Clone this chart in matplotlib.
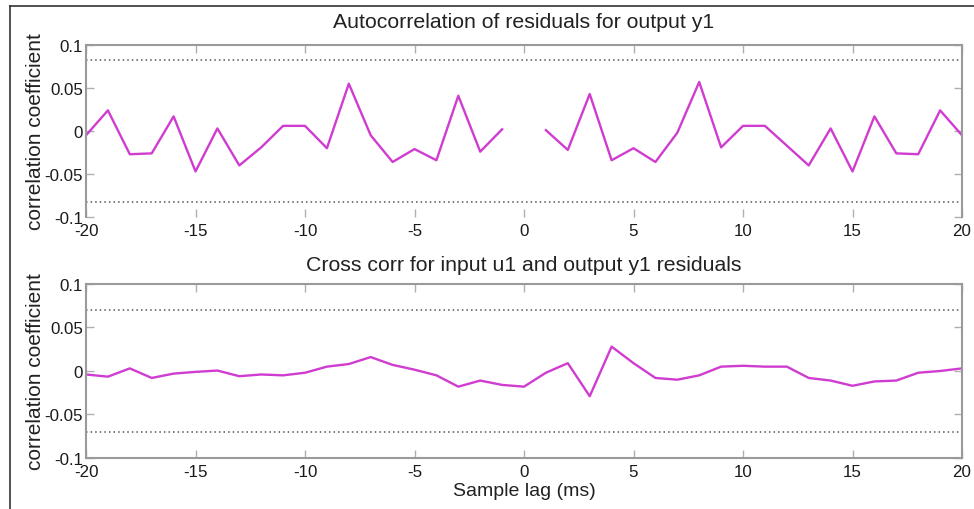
import matplotlib.pyplot as plt
import numpy as np
from matplotlib.lines import Line2D

plt.rcParams['font.family'] = ['Liberation Sans', 'DejaVu Sans']

# lags and correlation values
lags = np.arange(-20, 21)

# autocorrelation of residuals (lag 0 left out, as in the original)
auto_corr = [-0.005, 0.024, -0.027, -0.026, 0.017, -0.047, 0.003, -0.040,
             -0.019, 0.006, 0.006, -0.020, 0.055, -0.005, -0.036, -0.021,
             -0.034, 0.041, -0.024, 0.002, np.nan, 0.001, -0.022, 0.043,
             -0.034, -0.020, -0.036, -0.002, 0.057, -0.019, 0.006, 0.006,
             -0.017, -0.040, 0.003, -0.047, 0.017, -0.026, -0.027, 0.024,
             -0.005]
auto_conf = 0.082

# cross correlation input u1 / output y1 residuals
cross_corr = [-0.004, -0.0065, 0.003, -0.008, -0.003, -0.001, 0.0005, -0.006,
              -0.004, -0.005, -0.002, 0.005, 0.008, 0.016, 0.007, 0.0015,
              -0.005, -0.018, -0.011, -0.016, -0.018, -0.002, 0.009, -0.029,
              0.028, 0.009, -0.008, -0.010, -0.005, 0.005, 0.006, 0.005,
              0.005, -0.008, -0.011, -0.017, -0.012, -0.011, -0.002, 0.0,
              0.003]
cross_conf = 0.070

titles = ['Autocorrelation of residuals for output y1',
          'Cross corr for input u1 and output y1 residuals']
ylabel = 'correlation coefficient'
xlabel = 'Sample lag (ms)'
xticks = [-20, -15, -10, -5, 0, 5, 10, 15, 20]
yticks = [-0.1, -0.05, 0, 0.05, 0.1]
yticklabels = ['-0.1', '-0.05', '0', '0.05', '0.1']

line_color = '#d03cd0'
spine_color = '#9a9a9a'

fig = plt.figure(figsize=(9.74, 5.10), dpi=100)
ax1 = fig.add_axes([0.0883, 0.5725, 0.8994, 0.3373])
ax2 = fig.add_axes([0.0883, 0.1000, 0.8994, 0.3412])

panels = [(ax1, auto_corr, auto_conf, titles[0], 13),
          (ax2, cross_corr, cross_conf, titles[1], 10)]

for ax, vals, conf, title, pad in panels:
    ax.plot(lags, vals, color=line_color, linewidth=1.7)
    ax.axhline(conf, color='#555555', linestyle=(0, (1, 2)), linewidth=1.1)
    ax.axhline(-conf, color='#555555', linestyle=(0, (1, 2)), linewidth=1.1)
    ax.set_xlim(-20, 20)
    ax.set_ylim(-0.1, 0.1)
    ax.set_xticks(xticks)
    ax.set_xticklabels([str(t) for t in xticks])
    ax.set_yticks(yticks)
    ax.set_yticklabels(yticklabels)
    ax.tick_params(direction='in', length=6, width=1.0, color='#b0b0b0',
                   labelsize=12.2, labelcolor='#1a1a1a', pad=2,
                   top=True, right=True)
    ax.tick_params(axis='x', pad=4.5)
    for s in ax.spines.values():
        s.set_color(spine_color)
        s.set_linewidth(1.5)
    ax.set_title(title, fontsize=15.3, color='#222222', pad=pad)
    ax.set_ylabel(ylabel, fontsize=15, color='#222222', labelpad=0)

# top panel has no bottom edge in the original
ax1.spines['bottom'].set_visible(False)
ax2.set_xlabel(xlabel, fontsize=14, color='#222222', labelpad=2)

# outer frame of the screenshot (left and top edges)
fig.add_artist(Line2D([0.0103, 0.0103], [0.0, 0.9863], color='#333333',
                      linewidth=1.2, transform=fig.transFigure))
fig.add_artist(Line2D([0.0103, 1.0], [0.9863, 0.9863], color='#333333',
                      linewidth=1.2, transform=fig.transFigure))

fig.savefig('out.png', dpi=100)
